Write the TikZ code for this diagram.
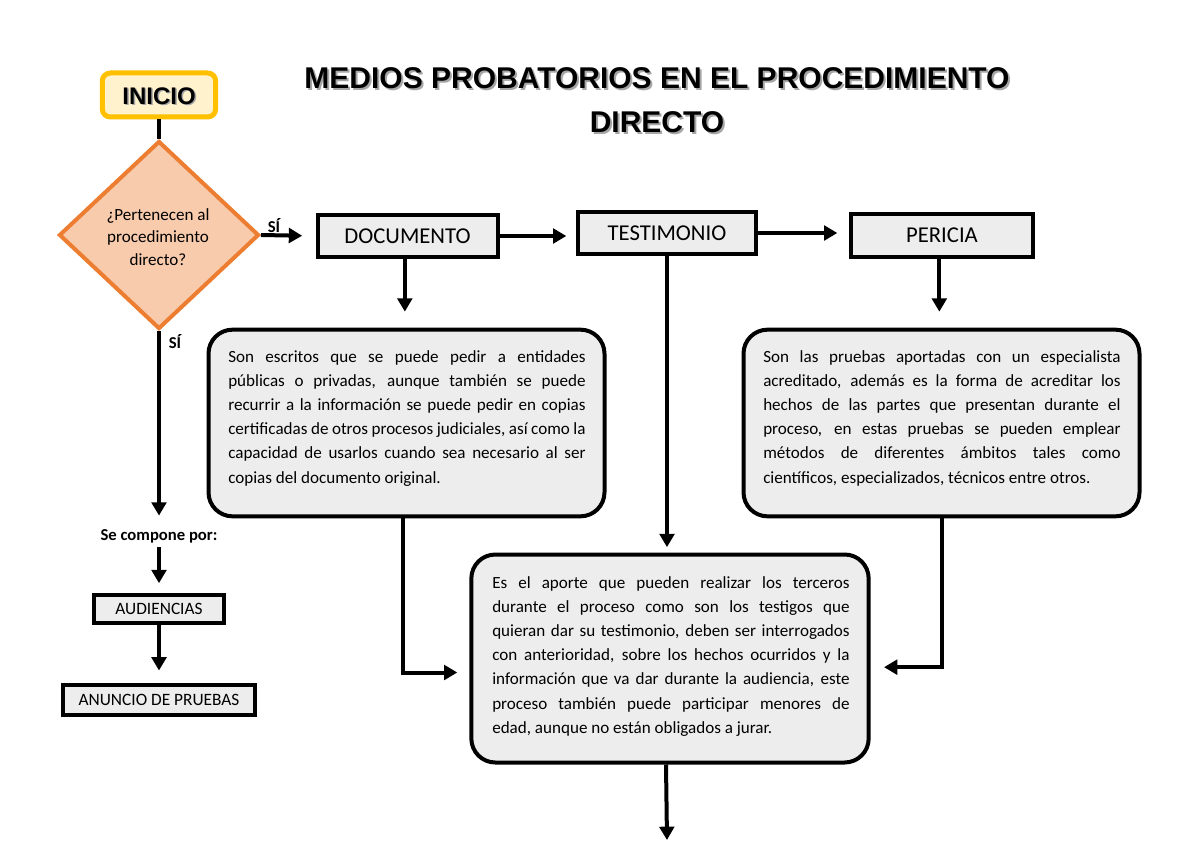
\documentclass[tikz,border=0pt]{standalone}
\usepackage{fontspec}
\setmainfont{Carlito}
\newfontfamily\titlefont{Liberation Sans}
\usetikzlibrary{arrows.meta,shapes.geometric}
\definecolor{inborder}{HTML}{FFC000}
\definecolor{infill}{HTML}{FFF2CC}
\definecolor{dmborder}{HTML}{ED7D31}
\definecolor{dmfill}{HTML}{F8CBAD}
\definecolor{boxfill}{HTML}{EDEDED}
\tikzset{
  conn/.style={line width=3pt,-{Triangle[length=10pt,width=11pt]}},
  plain/.style={line width=3pt},
  headbox/.style={draw=black,line width=3pt,fill=boxfill,inner sep=0pt,font=\fontsize{17}{19}\selectfont},
  smallbox/.style={draw=black,line width=3pt,fill=boxfill,inner sep=0pt,font=\fontsize{13}{15}\selectfont},
  textbox/.style={draw=black,line width=3pt,fill=boxfill,rounded corners=18pt,inner sep=0pt},
  bodytext/.style={anchor=north west,inner sep=0pt,align=justify,text width=268pt,
     font=\fontsize{12.8}{18.15}\selectfont},
  lbl/.style={font=\fontsize{12.5}{14}\selectfont\bfseries,inner sep=0pt},
  ttl/.style={font=\titlefont\bfseries\fontsize{22.5}{26}\selectfont,inner sep=0pt},
}
\begin{document}
\begin{tikzpicture}[x=0.75pt,y=-0.75pt]
\useasboundingbox (0,0) rectangle (1200,849);
\fill[white] (0,0) rectangle (1200,849);
% title with shadow
\node[ttl,text=black!35] at (659,80) {MEDIOS PROBATORIOS EN EL PROCEDIMIENTO};
\node[ttl] (title1) at (657,78) {MEDIOS PROBATORIOS EN EL PROCEDIMIENTO};
\node[ttl,text=black!35] at (659,124) {DIRECTO};
\node[ttl] (title2) at (657,122) {DIRECTO};
% start
\node[draw=inborder,fill=infill,line width=3.75pt,rounded corners=6pt,minimum width=85pt,minimum height=33pt,inner sep=0pt] (inicio) at (159,95) {};
\node[font=\titlefont\bfseries\fontsize{18}{20}\selectfont,text=black!35] at (160.5,97.5) {INICIO};
\node[font=\titlefont\bfseries\fontsize{18}{20}\selectfont] (iniciotxt) at (159,96) {INICIO};
% decision
\node[diamond,draw=dmborder,fill=dmfill,line width=3pt,minimum width=150pt,minimum height=141pt,inner sep=0pt] (dec) at (159,235) {};
\node[align=center,font=\fontsize{12.8}{17}\selectfont,inner sep=0pt] (dectxt) at (158,237) {¿Pertenecen al\\procedimiento\\directo?};
\draw[plain] (inicio.south) -- (dec.north);
% top boxes
\node[headbox,minimum width=135pt,minimum height=32pt] (doc) at (407.5,236) {DOCUMENTO};
\node[headbox,minimum width=134pt,minimum height=32pt] (test) at (667,233) {TESTIMONIO};
\node[headbox,minimum width=136pt,minimum height=32pt] (per) at (942,235.5) {PERICIA};
% text boxes
\node[textbox,minimum width=297pt,minimum height=140pt] (b1) at (406.5,423) {};
\node[bodytext] (b1t) at (228,350) {Son escritos que se puede pedir a entidades\linebreak públicas o privadas, aunque también se puede\linebreak recurrir a la información se puede pedir en copias\linebreak certificadas de otros procesos judiciales, así como la\linebreak capacidad de usarlos cuando sea necesario al ser\linebreak copias del documento original.};
\node[textbox,minimum width=297pt,minimum height=140pt] (b2) at (941.5,423) {};
\node[bodytext] (b2t) at (763,350) {Son las pruebas aportadas con un especialista\linebreak acreditado, además es la forma de acreditar los\linebreak hechos de las partes que presentan durante el\linebreak proceso, en estas pruebas se pueden emplear\linebreak métodos de diferentes ámbitos tales como\linebreak científicos, especializados, técnicos entre otros.};
\node[textbox,minimum width=298pt,minimum height=156pt] (b3) at (670,658.5) {};
\node[bodytext] (b3t) at (492,576) {Es el aporte que pueden realizar los terceros\linebreak durante el proceso como son los testigos que\linebreak quieran dar su testimonio, deben ser interrogados\linebreak con anterioridad, sobre los hechos ocurridos y la\linebreak información que va dar durante la audiencia, este\linebreak proceso también puede participar menores de\linebreak edad, aunque no están obligados a jurar.};
% left column
\node[lbl] (comp) at (159,536) {Se compone por:};
\node[smallbox,minimum width=98pt,minimum height=21pt] (aud) at (159,608.5) {AUDIENCIAS};
\node[smallbox,minimum width=144pt,minimum height=22.5pt] (anu) at (159,699.5) {ANUNCIO DE PRUEBAS};
% connectors
\draw[conn,shorten >=10pt] (dec.east) -- (doc.west);
\node[lbl] (si1) at (274,226) {SÍ};
\draw[conn,shorten >=7pt] (doc.east) -- (test.west |- doc.east);
\draw[conn,shorten >=9pt] (test.east) -- (per.west |- test.east);
\draw[conn,shorten >=12pt] ([xshift=-2pt]doc.south) -- ([xshift=-2pt]doc.south |- b1.north);
\draw[conn,shorten >=12pt] ([xshift=-2pt]per.south) -- ([xshift=-2pt]per.south |- b2.north);
\draw[conn,shorten >=4pt] (test.south) -- (test.south |- b3.north);
\draw[conn,shorten >=9pt] ([xshift=-3pt]b1.south) |- ([yshift=-10.5pt]b3.west);
\draw[conn,shorten >=10pt] (b2.south) |- ([yshift=-6.5pt]b3.east);
\coordinate (endpt) at (667,840);
\draw[conn] ([xshift=-3pt]b3.south) -- (endpt);
\draw[conn,shorten >=10pt] (dec.south) -- (comp.north);
\node[lbl] (si2) at (175,342) {SÍ};
\draw[conn,shorten >=7pt,shorten <=3pt] (comp.south) -- (aud.north);
\draw[conn,shorten >=9pt] (aud.south) -- (anu.north);
\end{tikzpicture}
\end{document}
